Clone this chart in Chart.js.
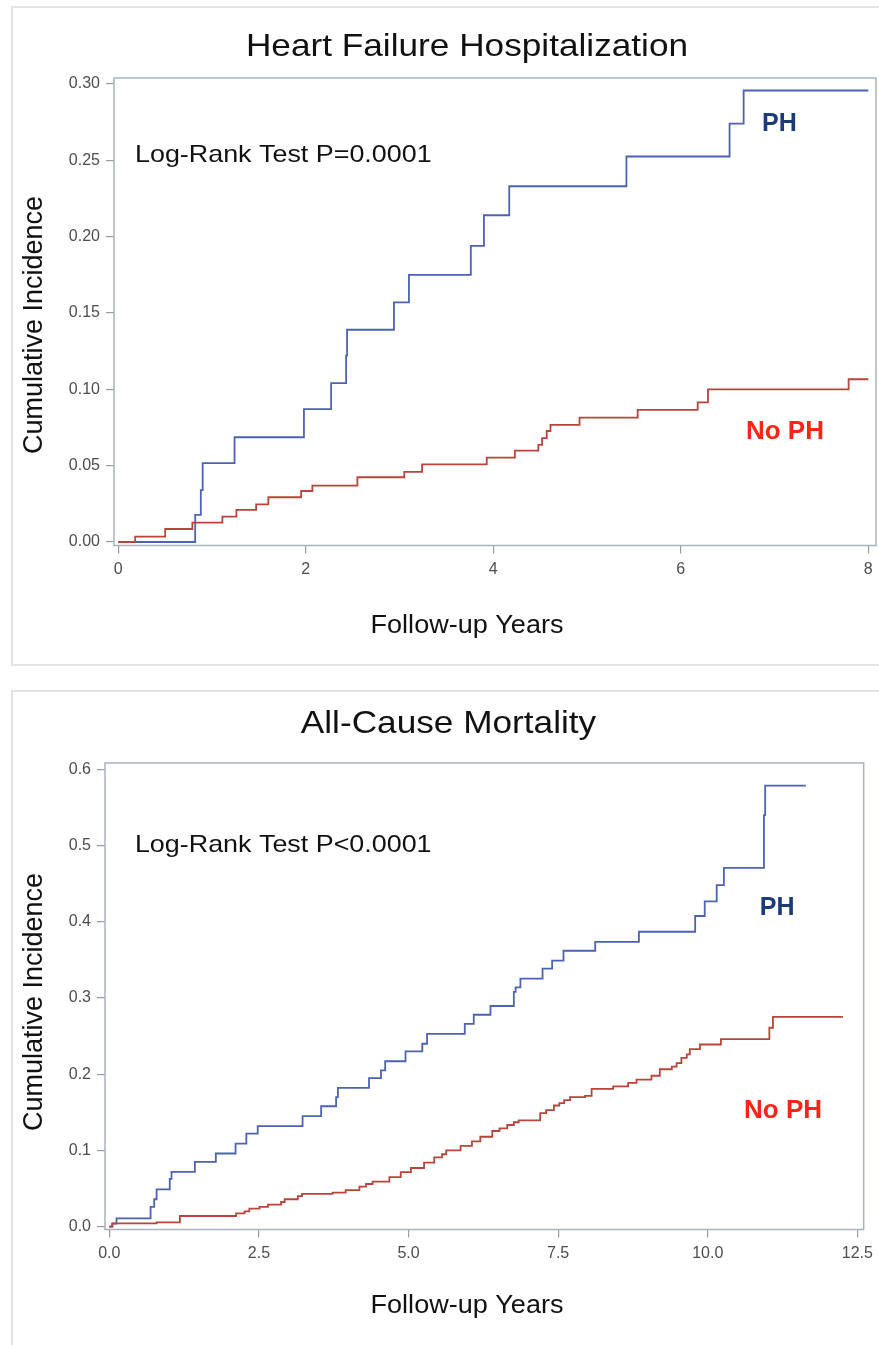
<!DOCTYPE html>
<html>
<head>
<meta charset="utf-8">
<script src="https://cdn.jsdelivr.net/npm/chart.js@4/dist/chart.umd.min.js"></script>
<style>
  html, body { margin: 0; padding: 0; background: #fff; }
  body { width: 879px; height: 1345px; position: relative; overflow: hidden; }
  .panel { position: absolute; left: 11px; width: 880px; border: 2px solid #e3e3e3; box-sizing: border-box; }
  .wrap { position: absolute; left: 0; width: 879px; }
</style>
</head>
<body>
<div class="panel" style="top:6px;height:660px"></div>
<div class="panel" style="top:690px;height:680px"></div>
<div class="wrap" style="top:0;height:678px"><canvas id="hf"></canvas></div>
<div class="wrap" style="top:678px;height:667px"><canvas id="mort"></canvas></div>
<script>
// Heart failure hospitalization - cumulative incidence steps
const hfPhTimes = [0, 0.82, 0.88, 0.90, 1.24, 1.98, 2.27, 2.43, 2.44, 2.94, 3.10, 3.76, 3.90, 4.17, 5.42, 6.52, 6.67, 8.0];
const hfPhValues = [0, 0.0177, 0.034, 0.0516, 0.0686, 0.087, 0.104, 0.122, 0.139, 0.157, 0.175, 0.194, 0.214, 0.233, 0.2525, 0.274, 0.2957, 0.2957];
const hfNoPhTimes = [0, 0.18, 0.50, 0.79, 1.11, 1.26, 1.47, 1.60, 1.95, 2.07, 2.55, 3.05, 3.24, 3.93, 4.23, 4.48, 4.52, 4.57, 4.61, 4.92, 5.54, 6.18, 6.29, 7.79, 8.0];
const hfNoPhValues = [0, 0.0035, 0.0085, 0.0127, 0.0166, 0.021, 0.0247, 0.0293, 0.0334, 0.0369, 0.0424, 0.0459, 0.0509, 0.0553, 0.0598, 0.0636, 0.068, 0.0727, 0.0767, 0.0815, 0.0865, 0.0915, 0.100, 0.1066, 0.1066];
const hfXTicks = [0, 2, 4, 6, 8];
const hfYTicks = [0, 0.05, 0.10, 0.15, 0.20, 0.25, 0.30];

// All-cause mortality
const mortPhTimes = [0, 0.05, 0.12, 0.69, 0.75, 0.79, 1.01, 1.04, 1.43, 1.78, 2.11, 2.29, 2.48, 3.23, 3.54, 3.79, 3.82, 4.34, 4.54, 4.61, 4.95, 5.23, 5.31, 5.94, 6.09, 6.37, 6.76, 6.79, 6.87, 7.24, 7.40, 7.59, 8.12, 8.85, 9.79, 9.95, 10.15, 10.27, 10.94, 10.96, 11.64];
const mortPhValues = [0, 0.004, 0.011, 0.026, 0.036, 0.049, 0.0626, 0.072, 0.085, 0.096, 0.109, 0.122, 0.132, 0.145, 0.158, 0.170, 0.182, 0.195, 0.205, 0.217, 0.230, 0.240, 0.253, 0.266, 0.278, 0.2895, 0.308, 0.314, 0.3255, 0.3386, 0.349, 0.362, 0.3737, 0.3869, 0.4076, 0.4267, 0.448, 0.4707, 0.540, 0.5785, 0.5785];
const mortNoPhTimes = [0, 0.05, 0.79, 1.18, 2.12, 2.26, 2.34, 2.51, 2.65, 2.87, 2.93, 3.15, 3.22, 3.73, 3.95, 4.18, 4.29, 4.40, 4.68, 4.87, 5.04, 5.26, 5.43, 5.56, 5.63, 5.87, 6.06, 6.20, 6.40, 6.52, 6.65, 6.76, 6.84, 7.20, 7.30, 7.43, 7.52, 7.60, 7.70, 7.95, 8.06, 8.42, 8.67, 8.81, 9.06, 9.20, 9.40, 9.48, 9.56, 9.65, 9.70, 9.87, 10.22, 11.03, 11.09, 12.26];
const mortNoPhValues = [0, 0.0044, 0.0057, 0.014, 0.0175, 0.020, 0.0236, 0.026, 0.029, 0.0324, 0.036, 0.040, 0.043, 0.0446, 0.048, 0.0525, 0.056, 0.059, 0.065, 0.0715, 0.077, 0.084, 0.091, 0.095, 0.100, 0.106, 0.112, 0.118, 0.1255, 0.129, 0.1334, 0.137, 0.1395, 0.149, 0.153, 0.159, 0.162, 0.166, 0.170, 0.1715, 0.1807, 0.184, 0.1886, 0.193, 0.198, 0.2065, 0.21, 0.2145, 0.2215, 0.226, 0.233, 0.239, 0.246, 0.261, 0.2753, 0.2753];
const mortXTicks = [0, 2.5, 5, 7.5, 10, 12.5];
const mortYTicks = [0, 0.1, 0.2, 0.3, 0.4, 0.5, 0.6];

const FONT = '"Liberation Sans", Arial, Helvetica, sans-serif';
const PH_LINE = '#4c62b4';
const NOPH_LINE = '#b9443a';

// plot frame around the chart area
const framePlugin = {
    id: 'frame',
    afterDatasetsDraw(chart) {
        const a = chart.chartArea;
        const ctx = chart.ctx;
        ctx.save();
        ctx.strokeStyle = '#a9b2c0';
        ctx.lineWidth = 1.5;
        ctx.strokeRect(a.left, a.top, a.right - a.left, a.bottom - a.top);
        ctx.restore();
    }
};

// titles and in-plot labels
const notesPlugin = {
    id: 'notes',
    afterDraw(chart, args, opts) {
        const ctx = chart.ctx;
        const xs = chart.scales.x, ys = chart.scales.y;
        (opts.items || []).forEach(n => {
            const px = n.data ? xs.getPixelForValue(n.x) : n.x;
            const py = n.data ? ys.getPixelForValue(n.y) : n.y;
            ctx.save();
            ctx.translate(px, py);
            if (n.rotate) ctx.rotate(n.rotate);
            ctx.scale(n.sx || 1, 1);
            ctx.font = n.font;
            ctx.fillStyle = n.color || '#111';
            ctx.textAlign = n.align || 'center';
            ctx.textBaseline = 'middle';
            ctx.fillText(n.text, 0, 0);
            ctx.restore();
        });
    }
};

function steps(times, values) {
    return times.map((t, i) => ({ x: t, y: values[i] }));
}

function makeChart(id, c) {
    return new Chart(document.getElementById(id), {
        type: 'line',
        data: {
            datasets: [
                { label: 'No PH', data: steps(c.noPhTimes, c.noPhValues), stepped: true,
                  borderColor: NOPH_LINE, borderWidth: 1.8, pointRadius: 0, fill: false },
                { label: 'PH', data: steps(c.phTimes, c.phValues), stepped: true,
                  borderColor: PH_LINE, borderWidth: 1.8, pointRadius: 0, fill: false }
            ]
        },
        options: {
            responsive: true,
            maintainAspectRatio: false,
            animation: false,
            layout: { padding: { top: c.padTop, right: c.padRight, left: 0, bottom: 0 } },
            scales: {
                x: {
                    type: 'linear',
                    min: c.xMin, max: c.xMax,
                    afterBuildTicks: s => { s.ticks = c.xTicks.map(v => ({ value: v })); },
                    afterFit: s => { s.height = c.xAxisHeight; },
                    grid: { drawOnChartArea: false, drawTicks: true, tickLength: 8, color: '#9c9c9c', lineWidth: 1.2 },
                    border: { display: false },
                    ticks: { padding: 6, color: '#4d4d4d', font: { family: FONT, size: 16 },
                             maxRotation: 0, callback: v => v.toFixed(c.xDigits) }
                },
                y: {
                    min: c.yMin, max: c.yMax,
                    afterBuildTicks: s => { s.ticks = c.yTicks.map(v => ({ value: v })); },
                    afterFit: s => { s.width = c.yAxisWidth; },
                    grid: { drawOnChartArea: false, drawTicks: true, tickLength: 8, color: '#9c9c9c', lineWidth: 1.2 },
                    border: { display: false },
                    ticks: { padding: 6, color: '#4d4d4d', font: { family: FONT, size: 16 },
                             callback: v => v.toFixed(c.yDigits) }
                }
            },
            plugins: {
                legend: { display: false },
                tooltip: { enabled: false },
                notes: { items: c.notes }
            }
        },
        plugins: [framePlugin, notesPlugin]
    });
}

makeChart('hf', {
    phTimes: hfPhTimes, phValues: hfPhValues,
    noPhTimes: hfNoPhTimes, noPhValues: hfNoPhValues,
    xMin: -0.046, xMax: 8.082, xTicks: hfXTicks, xDigits: 0,
    yMin: -0.0023, yMax: 0.3039, yTicks: hfYTicks, yDigits: 2,
    padTop: 78, padRight: 3, yAxisWidth: 114, xAxisHeight: 132.5,
    notes: [
        { text: 'Heart Failure Hospitalization', x: 467, y: 47, font: '32px ' + FONT, sx: 1.1 },
        { text: 'Cumulative Incidence', x: 35, y: 325, rotate: -Math.PI / 2, font: '27px ' + FONT },
        { text: 'Follow-up Years', x: 467, y: 626, font: '26px ' + FONT, sx: 1.04 },
        { text: 'Log-Rank Test P=0.0001', data: true, x: 0.178, y: 0.2535, align: 'left', font: '24px ' + FONT, sx: 1.12 },
        { text: 'PH', data: true, x: 6.866, y: 0.2736, align: 'left', font: 'bold 25px ' + FONT, color: '#1c3a78' },
        { text: 'No PH', data: true, x: 6.695, y: 0.0722, align: 'left', font: 'bold 26px ' + FONT, color: '#ff2414' }
    ]
});

makeChart('mort', {
    phTimes: mortPhTimes, phValues: mortPhValues,
    noPhTimes: mortNoPhTimes, noPhValues: mortNoPhValues,
    xMin: -0.072, xMax: 12.606, xTicks: mortXTicks, xDigits: 1,
    yMin: -0.0037, yMax: 0.6083, yTicks: mortYTicks, yDigits: 1,
    padTop: 85, padRight: 13, yAxisWidth: 105, xAxisHeight: 115.5,
    notes: [
        { text: 'All-Cause Mortality', x: 448.5, y: 46, font: '32px ' + FONT, sx: 1.1 },
        { text: 'Cumulative Incidence', x: 35, y: 324, rotate: -Math.PI / 2, font: '27px ' + FONT },
        { text: 'Follow-up Years', x: 467, y: 628, font: '26px ' + FONT, sx: 1.04 },
        { text: 'Log-Rank Test P<0.0001', data: true, x: 0.428, y: 0.5, align: 'left', font: '24px ' + FONT, sx: 1.12 },
        { text: 'PH', data: true, x: 10.87, y: 0.418, align: 'left', font: 'bold 25px ' + FONT, color: '#1c3a78' },
        { text: 'No PH', data: true, x: 10.607, y: 0.152, align: 'left', font: 'bold 26px ' + FONT, color: '#ff2414' }
    ]
});
</script>
</body>
</html>
